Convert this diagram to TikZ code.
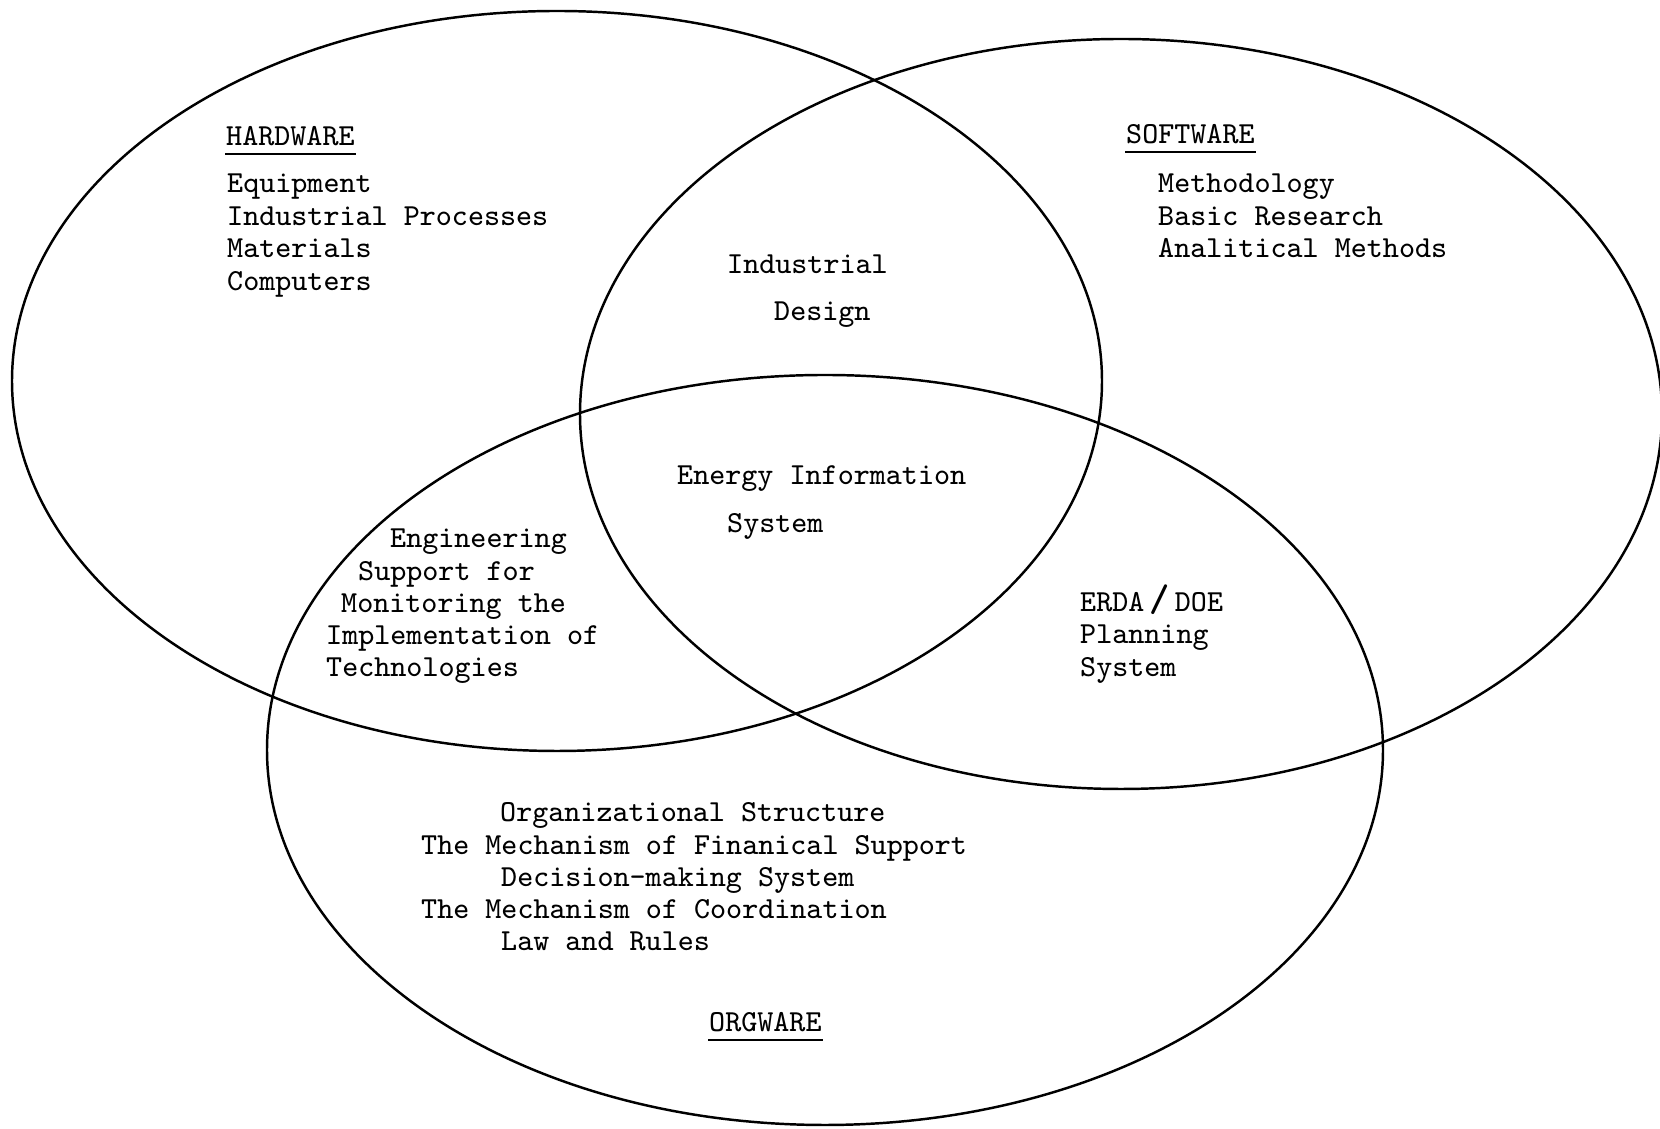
\documentclass[tikz,border=0pt]{standalone}
\usepackage{fontspec}
\begin{document}
\begin{tikzpicture}[x=0.1mm, y=-0.1mm, line width=0.7pt,
		font=\fontsize{8.7}{9.2}\selectfont\ttfamily,
		lbl/.style={anchor=base west, inner sep=0pt}]
		\useasboundingbox (0,0) rectangle (1660,1129);
		% the three sets
		\draw (557,381) ellipse [x radius=545, y radius=370];
		\draw (1121,414) ellipse [x radius=541, y radius=375];
		\draw (825,750) ellipse [x radius=558, y radius=375];
		% headings
		\node[lbl] (hw) at (225,146) {HARDWARE};
		\node[lbl] (sw) at (1125,144) {SOFTWARE};
		\node[lbl] (ow) at (708,1032) {ORGWARE};
		\foreach \h in {hw,sw,ow}{
			\draw[line width=0.6pt] ([yshift=-2.3pt]\h.base west) -- ([yshift=-2.3pt]\h.base east);
		}
		% hardware only
		\foreach \t [count=\i] in {Equipment, Industrial Processes, Materials, Computers}{
			\node[lbl] (hw\i) at ({226},{193+32.4*(\i-1)}) {\t};
		}
		% software only
		\foreach \t [count=\i] in {Methodology, Basic Research, Analitical Methods}{
			\node[lbl] (sw\i) at ({1157},{193+32.4*(\i-1)}) {\t};
		}
		% overlaps
		\node[lbl] (ind) at (726,274) {Industrial};
		\node[lbl] (des) at (773,321) {Design};
		\node[lbl] (eis) at (676,485) {Energy Information};
		\node[lbl] (sys) at (726,533) {System};
		\foreach \x/\t [count=\i] in {389/Engineering, 357/Support for, 340/Monitoring the,
			325/Implementation of, 325/Technologies}{
			\node[lbl] (eng\i) at ({\x},{548+32.2*(\i-1)}) {\t};
		}
		\node[lbl] (erda) at (1079,612) {ERDA\,{\fontsize{11}{11}\selectfont\bfseries/}\,DOE};
		\node[lbl] (plan) at (1079,644) {Planning};
		\node[lbl] (psys) at (1079,677) {System};
		% orgware only
		\foreach \x/\t [count=\i] in {499/Organizational Structure, 420/The Mechanism of Finanical Support,
			500/Decision-making System, 420/The Mechanism of Coordination, 500/Law and Rules}{
			\node[lbl] (ow\i) at ({\x},{822+32.2*(\i-1)}) {\t};
		}
	\end{tikzpicture}
\end{document}
